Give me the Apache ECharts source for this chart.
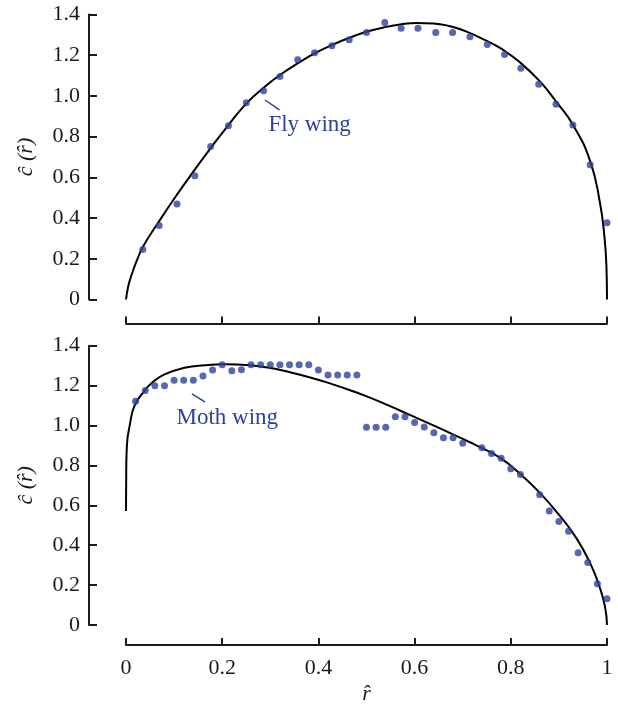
<!DOCTYPE html>
<html>
<head>
<meta charset="utf-8">
<script src="https://cdn.jsdelivr.net/npm/echarts@6/dist/echarts.min.js"></script>
<style>
html,body{margin:0;padding:0;background:#fff;}
#c{width:618px;height:706px;}
</style>
</head>
<body>
<div id="c"></div>
<script>
// ---- Data ----
var xTicks = [0, 0.2, 0.4, 0.6, 0.8, 1];
var yTicks = [0, 0.2, 0.4, 0.6, 0.8, 1.0, 1.2, 1.4];

// Fly wing measured points
var flyR = [0.035,0.069,0.106,0.143,0.176,0.213,0.250,0.286,0.320,0.357,0.392,0.428,0.464,0.500,0.538,0.572,0.607,0.644,0.679,0.715,0.751,0.787,0.821,0.858,0.894,0.929,0.965,1.0];
var flyC = [0.246,0.364,0.469,0.608,0.751,0.854,0.967,1.026,1.096,1.178,1.212,1.247,1.276,1.312,1.361,1.332,1.332,1.312,1.312,1.291,1.253,1.204,1.136,1.057,0.959,0.857,0.662,0.377];

// Fly wing fitted curve
var flyCurveR = [0,0.004,0.008,0.015,0.022,0.035,0.069,0.106,0.143,0.176,0.213,0.250,0.286,0.320,0.362,0.393,0.428,0.466,0.500,0.538,0.570,0.604,0.639,0.674,0.708,0.750,0.780,0.819,0.861,0.895,0.930,0.965,0.985,0.995,0.999,1.0];
var flyCurveC = [0,0.058,0.094,0.145,0.188,0.258,0.385,0.515,0.638,0.744,0.857,0.962,1.04,1.103,1.167,1.21,1.25,1.287,1.315,1.338,1.351,1.358,1.356,1.342,1.316,1.27,1.232,1.165,1.07,0.97,0.855,0.68,0.48,0.30,0.15,0];

// Moth wing measured points
var mothR = [0.02,0.04,0.06,0.08,0.10,0.12,0.14,0.16,0.18,0.20,0.22,0.24,0.26,0.28,0.30,0.32,0.34,0.36,0.38,0.40,0.42,0.44,0.46,0.48,0.50,0.52,0.54,0.56,0.58,0.60,0.62,0.64,0.66,0.68,0.70,0.74,0.76,0.78,0.80,0.82,0.86,0.88,0.90,0.92,0.94,0.96,0.98,1.0];
var mothC = [1.121,1.175,1.199,1.199,1.227,1.227,1.227,1.248,1.278,1.304,1.275,1.279,1.304,1.304,1.304,1.304,1.304,1.304,1.304,1.278,1.253,1.253,1.253,1.253,0.991,0.991,0.991,1.044,1.044,1.015,0.992,0.964,0.938,0.938,0.911,0.889,0.860,0.836,0.783,0.754,0.653,0.571,0.519,0.470,0.362,0.313,0.207,0.131];

// Moth wing fitted curve
var mothCurveR = [0,0.0005,0.002,0.008,0.018,0.039,0.053,0.080,0.122,0.164,0.205,0.258,0.299,0.341,0.383,0.424,0.466,0.507,0.549,0.590,0.632,0.674,0.715,0.736,0.778,0.819,0.861,0.902,0.937,0.965,0.985,0.996,1.0];
var mothCurveC = [0.571,0.775,0.905,1.003,1.101,1.175,1.212,1.256,1.289,1.302,1.307,1.302,1.289,1.267,1.241,1.211,1.177,1.140,1.097,1.053,1.008,0.962,0.916,0.892,0.838,0.759,0.661,0.547,0.433,0.310,0.188,0.090,0];

var flyLabel = 'Fly wing';
var mothLabel = 'Moth wing';
var yName = 'ĉ (r\u0302)';
var xName = 'r\u0302';

function zip(a, b) { return a.map(function (v, i) { return [v, b[i]]; }); }

var FONT = '"Liberation Serif", "DejaVu Serif", serif';
var INK = '#1a1a1a';
var BLUE = '#2c429b';

function yAxisDef(gi) {
  return {
    gridIndex: gi, type: 'value', min: yTicks[0], max: yTicks[yTicks.length - 1], interval: 0.2,
    offset: 37,
    name: yName, nameLocation: 'middle', nameRotate: 90, nameGap: 52,
    nameTextStyle: { fontFamily: FONT, fontStyle: 'italic', fontSize: 22, color: INK },
    axisLine: { show: true, onZero: false, lineStyle: { color: INK, width: 2 } },
    axisTick: { show: true, inside: true, length: 8, lineStyle: { color: INK, width: 2 } },
    axisLabel: { margin: 9, fontFamily: FONT, fontSize: 22, color: INK,
      formatter: function (v) { return v === 0 ? '0' : v.toFixed(1); } },
    splitLine: { show: false }
  };
}
function xAxisDef(gi, showLabels, off) {
  var d = {
    gridIndex: gi, type: 'value', min: xTicks[0], max: xTicks[xTicks.length - 1], interval: 0.2,
    offset: off,
    axisLine: { show: true, onZero: false, lineStyle: { color: INK, width: 2 } },
    axisTick: { show: true, inside: true, length: 7, lineStyle: { color: INK, width: 2 } },
    axisLabel: { show: showLabels, margin: 12, fontFamily: FONT, fontSize: 22, color: INK },
    splitLine: { show: false }
  };
  if (showLabels) {
    d.name = xName; d.nameLocation = 'middle'; d.nameGap = 38;
    d.nameTextStyle = { fontFamily: FONT, fontStyle: 'italic', fontSize: 22, color: INK };
  }
  return d;
}

function curveSeries(gi, data) {
  return { type: 'line', xAxisIndex: gi, yAxisIndex: gi, data: data, symbol: 'none', smooth: 0.5,
    clip: false, lineStyle: { color: '#000', width: 2 }, z: 2, silent: true };
}
function pointSeries(gi, data, label, lead, textAt) {
  return { type: 'scatter', xAxisIndex: gi, yAxisIndex: gi, data: data, symbolSize: 7,
    clip: false, itemStyle: { color: BLUE }, z: 3, silent: true,
    markLine: { silent: true, symbol: 'none', animation: false,
      lineStyle: { color: BLUE, width: 1.5, type: 'solid' }, label: { show: false },
      data: [[{ coord: lead[0] }, { coord: lead[1] }]] },
    markPoint: { silent: true, animation: false, symbol: 'circle', symbolSize: 0,
      label: { show: true, position: 'right', distance: 0, formatter: label,
        fontFamily: FONT, fontSize: 23, color: BLUE },
      data: [{ coord: textAt }] }
  };
}

var chart = echarts.init(document.getElementById('c'), null, { renderer: 'canvas' });
chart.setOption({
  animation: false,
  backgroundColor: '#fff',
  grid: [
    { left: 126, right: 11, top: 14.5, height: 285 },
    { left: 126, right: 11, top: 345.7, height: 286 }
  ],
  xAxis: [xAxisDef(0, false, 24), xAxisDef(1, true, 20)],
  yAxis: [yAxisDef(0), yAxisDef(1)],
  series: [
    curveSeries(0, zip(flyCurveR, flyCurveC)),
    pointSeries(0, zip(flyR, flyC), flyLabel, [[0.289, 0.980], [0.319, 0.931]], [0.296, 0.855]),
    curveSeries(1, zip(mothCurveR, mothCurveC)),
    pointSeries(1, zip(mothR, mothC), mothLabel, [[0.137, 1.159], [0.164, 1.118]], [0.105, 1.038])
  ]
});
</script>
</body>
</html>
